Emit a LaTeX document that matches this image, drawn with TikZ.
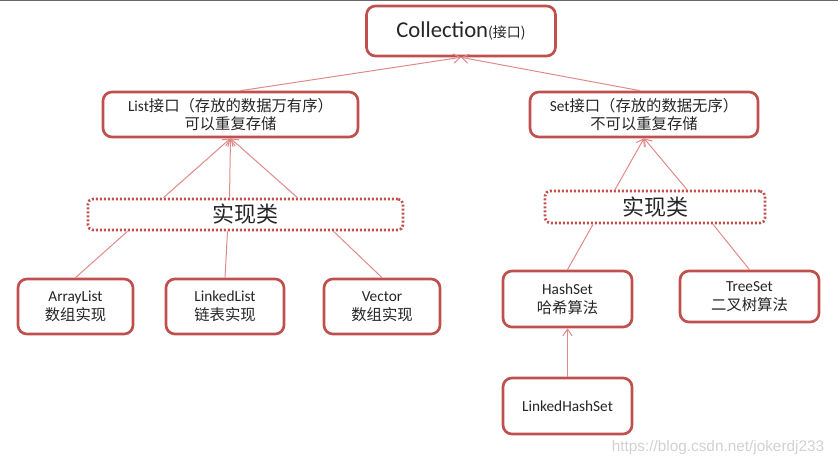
\documentclass[tikz,border=0pt]{standalone}
\usepackage{fontspec}
\setmainfont{Carlito}
\newfontfamily\cjk{Noto Sans CJK SC}
\newfontfamily\urlfont{Liberation Sans}
\usepackage{tikz}
\usetikzlibrary{positioning,arrows.meta,calc}
\tikzset{>={Straight Barb[length=5pt,width=7pt]}}
\definecolor{boxred}{HTML}{C0504D}
\definecolor{linkred}{HTML}{E08A88}

\begin{document}
\begin{tikzpicture}[x=0.75pt, y=-0.75pt,
block/.style={rectangle, draw=boxred, line width=2pt, rounded corners=1.4ex, fill=white,
  align=center, inner sep=0pt, text=black!85, font=\fontsize{11.5}{14}\selectfont},
implbox/.style={rectangle, draw=boxred, line width=2pt, dash pattern=on 1.5pt off 1.5pt,
  rounded corners=0.8ex, inner sep=0pt, text=black!85, font=\cjk\fontsize{16.5}{20}\selectfont},
link/.style={draw=linkred, line width=0.75pt}
]
\useasboundingbox (0,0) rectangle (838,466);
\draw [gray!80!black, line width=1.2pt] (0,0.6) -- (838,0.6);

\node (coll) [block, minimum width=189*0.75pt, minimum height=50*0.75pt] at (461,31)
  {\fontsize{17}{20}\selectfont Collection{\cjk\fontsize{10.5}{12}\selectfont (接口)}};
\node (list) [block, minimum width=255*0.75pt, minimum height=45*0.75pt] at (230.5,114.5)
  {List{\cjk 接口（存放的数据万有序）}\\{\cjk 可以重复存储}};
\node (set) [block, minimum width=228*0.75pt, minimum height=45*0.75pt] at (644,114.5)
  {Set{\cjk 接口（存放的数据无序）}\\{\cjk 不可以重复存储}};

\node (implL) [implbox, minimum width=315*0.75pt, minimum height=31*0.75pt] at (245.5,214.5) {实现类};
\node (implR) [implbox, minimum width=220*0.75pt, minimum height=32*0.75pt] at (655,207) {实现类};

\node (arraylist) [block, minimum width=115*0.75pt, minimum height=55*0.75pt] at (75.5,306.5)
  {ArrayList\\{\cjk 数组实现}};
\node (linkedlist) [block, minimum width=118*0.75pt, minimum height=55*0.75pt] at (225,306.5)
  {LinkedList\\{\cjk 链表实现}};
\node (vector) [block, minimum width=116*0.75pt, minimum height=55*0.75pt] at (382,306.5)
  {Vector\\{\cjk 数组实现}};
\node (hashset) [block, minimum width=129*0.75pt, minimum height=56*0.75pt] at (567.5,299)
  {HashSet\\{\cjk 哈希算法}};
\node (treeset) [block, minimum width=139*0.75pt, minimum height=51*0.75pt] at (749.5,296.5)
  {TreeSet\\{\cjk 二叉树算法}};
\node (linkedhashset) [block, minimum width=129*0.75pt, minimum height=56*0.75pt] at (567.5,406)
  {LinkedHashSet};

\node (url) [text=black!18, font=\urlfont\fontsize{11.5}{12}\selectfont] at (718,448)
  {https://blog.csdn.net/jokerdj233};

% interfaces
\draw [link, ->] ($(list.north)+(10,0)$) -- (coll.south);
\draw [link, ->] ($(set.north)+(-4,0)$) -- (coll.south);

% list side
\draw [link, ->] ($(implL.north)+(-82,0)$) -- (list.south);
\draw [link, ->] ($(implL.north)+(-16,0)$) -- (list.south);
\draw [link, ->] ($(implL.north)+(52,0)$) -- (list.south);
\draw [link] (arraylist.north) -- ($(implL.south)+(-118,0)$);
\draw [link] (linkedlist.north) -- ($(implL.south)+(-18,0)$);
\draw [link] (vector.north) -- ($(implL.south)+(88,0)$);

% set side
\draw [link, ->] ($(implR.north)+(-40,0)$) -- (set.south);
\draw [link, ->] ($(implR.north)+(32,0)$) -- (set.south);
\draw [link] (hashset.north) -- ($(implR.south)+(-62,0)$);
\draw [link] (treeset.north) -- ($(implR.south)+(58,0)$);
\draw [link, ->] (linkedhashset.north) -- (hashset.south);
\end{tikzpicture}
\end{document}
